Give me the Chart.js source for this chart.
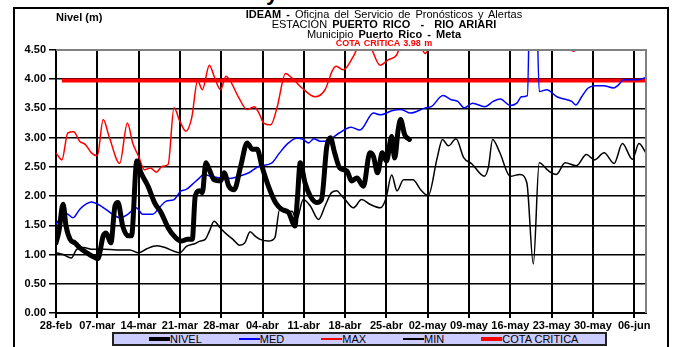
<!DOCTYPE html>
<html>
<head>
<meta charset="utf-8">
<script src="https://cdn.jsdelivr.net/npm/chart.js@4.4.0/dist/chart.umd.min.js"></script>
<style>
  body { margin: 0; background: #fff; font-family: "Liberation Sans", Arial, sans-serif; }
  #hoja { position: absolute; left: 0; top: 0; width: 679px; height: 347px; overflow: hidden; }
  #grafico { position: absolute; left: 0; top: 0; }
  .marco { position: absolute; left: 13px; top: 7px; width: 656px; height: 400px; border: 2px solid #000; box-sizing: border-box; }
  .titulo { position: absolute; left: 184px; width: 400px; text-align: center; font-size: 11px; line-height: 11px; color: #000;
            white-space: pre; word-spacing: 2px; }
  .nivel { position: absolute; left: 56px; top: 12px; font-size: 11px; font-weight: bold; line-height: 11px; }
  .cota { color: #ff0000; font-weight: bold; font-size: 9px; line-height: 9px; word-spacing: 1px; }
  .cortado { position: absolute; left: 266px; top: -20px; font-size: 22px; font-weight: bold; line-height: 25px; }
  #leyenda { position: absolute; left: 112px; top: 332px; width: 495px; height: 14px; box-sizing: border-box;
             border: 2px solid #222; background: #ccccff; display: flex; align-items: center; padding-left: 35px; gap: 37px; }
  .item { display: flex; align-items: center; font-size: 11px; line-height: 11px; }
  .muestra { width: 21px; }
</style>
</head>
<body>
<div id="hoja">
  <div class="marco"></div>
  <div class="cortado">y</div>
  <canvas id="grafico" width="679" height="347"></canvas>
  <div class="nivel">Nivel (m)</div>
  <div class="titulo" style="top:9px"><b>IDEAM -</b> Oficina del Servicio de Pronósticos y Alertas</div>
  <div class="titulo" style="top:19px">ESTACIÓN <b>PUERTO RICO  -  RIO ARIARI</b></div>
  <div class="titulo" style="top:29px">Municipio <b>Puerto Rico - Meta</b></div>
  <div class="titulo cota" style="top:39px">COTA CRÍTICA 3.98 m</div>
  <div id="leyenda"></div>
</div>
<script>
// Etiquetas del eje de fechas (una cada 7 dias, desde el 28-feb)
var fechas = ['28-feb', '07-mar', '14-mar', '21-mar', '28-mar', '04-abr', '11-abr', '18-abr',
              '25-abr', '02-may', '09-may', '16-may', '23-may', '30-may', '06-jun'];
var diasTotales = 100;

// NIVEL observado (dias desde 28-feb, metros)
var nivelDias = [0, 0.5, 1.2, 1.7, 2.4, 3.2, 4, 5.2, 6, 7.1, 8, 8.5, 9.3, 10, 10.5, 11.3, 12.2, 12.8, 13.7, 14.4,
  15.6, 16.7, 17.8, 19, 20, 21.2, 22.3, 23.1, 23.6, 24.3, 24.8, 25.4, 26, 26.8, 27.9, 28.5, 29.3, 30.2, 31.3, 32.4,
  33.3, 34.1, 34.9, 36, 37.2, 38.3, 39.4, 40.5, 40.9, 41.4, 42.2, 43.1, 44.2, 45, 45.9, 46.5, 47.2, 48.1, 49.3, 50.1,
  51, 52.1, 53.2, 53.8, 54.5, 55.3, 56, 56.9, 57.4, 58, 58.4, 59.1, 59.9];
var nivelValores = [1.20, 1.40, 1.86, 1.49, 1.26, 1.20, 1.12, 1.03, 0.98, 0.93, 1.32, 1.37, 1.20, 1.83, 1.89, 1.49, 1.32, 1.32, 2.60, 2.40,
  2.17, 1.89, 1.72, 1.46, 1.32, 1.23, 1.26, 1.26, 2.00, 2.09, 2.06, 2.57, 2.45, 2.28, 2.26, 2.40, 2.17, 2.11, 2.51, 2.91,
  2.80, 2.80, 2.51, 2.17, 1.89, 1.77, 1.72, 1.49, 1.94, 2.57, 2.23, 2.00, 1.89, 1.94, 2.85, 3.00, 2.75, 2.48, 2.43, 2.26,
  2.31, 2.17, 2.74, 2.68, 2.40, 2.74, 2.60, 3.02, 2.65, 3.14, 3.31, 3.05, 2.97];

// MED historico
var medDias = [0, 1, 1.8, 2.9, 4, 5.2, 6, 7.1, 8.5, 10, 11, 12.2, 13.6, 14.7, 16.4, 17.5, 18.6, 20, 21.2, 22,
  23.1, 24.2, 25, 26.3, 27.9, 29.3, 31, 32.7, 34.4, 36.6, 37.9, 39.4, 40.8, 41.9, 42.8, 43.7, 44.8, 45.6, 46.7, 48,
  50, 51.5, 53.8, 55, 56.9, 58.5, 60.1, 62.6, 63.6, 65.6, 67, 68.1, 69.2, 70.6, 72.7, 74.1, 75.3, 77, 78.1, 78.9,
  79.9, 80.5, 81.2, 81.9, 83.2, 84.9, 86.6, 87.4, 88.1, 89.1, 90.2, 91.4, 92.8, 94.5, 95.3, 96.2, 97.9, 99, 100];
var medValores = [1.52, 1.66, 1.70, 1.63, 1.77, 1.87, 1.90, 1.86, 1.77, 1.66, 1.63, 1.69, 1.80, 1.69, 1.69, 1.80, 1.91, 1.94, 2.09, 2.11,
  2.20, 2.30, 2.37, 2.34, 2.31, 2.30, 2.34, 2.40, 2.51, 2.57, 2.74, 2.91, 2.99, 2.97, 2.91, 2.98, 2.94, 2.94, 2.99, 3.08,
  3.18, 3.13, 3.42, 3.39, 3.46, 3.48, 3.42, 3.51, 3.53, 3.72, 3.65, 3.62, 3.51, 3.59, 3.53, 3.62, 3.66, 3.55, 3.59, 3.70,
  3.72, 6.50, 6.50, 3.79, 3.82, 3.70, 3.65, 3.62, 3.56, 3.70, 3.85, 3.89, 3.89, 3.85, 3.90, 3.99, 3.99, 4.00, 4.03];

// MAX historico
var maxDias = [0, 1, 2, 3, 4, 5, 6, 7, 8, 9, 10.8, 12.1, 13, 14, 15, 16, 17, 18, 19, 20,
  21, 22, 23, 24, 24.8, 26, 26.8, 27.9, 28.8, 29.6, 31, 32.4, 33.6, 34.4, 35.2, 36.4, 37.5, 38.9, 40, 41.7,
  43.9, 45.6, 46.9, 47.5, 48.7, 50.4, 51.8, 53.3, 54.9, 56.3, 57.7, 58.6, 59.8, 61, 62.6, 64, 66, 70, 74, 78,
  82, 86, 87.7, 89.5, 92, 96, 100];
var maxValores = [2.74, 2.62, 3.08, 3.10, 2.94, 2.88, 2.74, 2.69, 3.31, 3.02, 2.56, 3.25, 2.91, 2.68, 2.45, 2.48, 2.41, 2.51, 2.54, 3.51,
  3.28, 3.11, 3.34, 3.98, 3.82, 4.24, 4.05, 3.82, 4.05, 3.96, 3.68, 3.48, 3.53, 3.42, 3.25, 3.22, 3.53, 4.10, 4.02, 3.85,
  3.70, 3.82, 4.16, 4.22, 4.16, 4.39, 4.65, 4.55, 4.24, 4.33, 4.41, 4.60, 4.50, 4.70, 4.44, 4.80, 5.00, 4.90, 5.10, 4.80,
  5.00, 4.70, 4.48, 4.70, 4.90, 5.00, 4.90];

// MIN historico
var minDias = [0, 1.2, 2.6, 3.5, 4.6, 6.3, 8, 10.3, 12.5, 14, 15.4, 17.1, 18.5, 19.9, 21, 22.1, 23.6, 24.4, 25.3, 26,
  26.8, 27.8, 28.9, 30, 31.1, 32, 32.9, 33.7, 34.6, 36, 37.1, 37.9, 38.8, 40, 40.8, 41.9, 43.1, 44.5, 45.6, 46.7,
  47.6, 48.3, 49, 50.4, 51.8, 53.2, 55, 55.9, 56.9, 57.8, 58.9, 60.5, 61.8, 63.1, 64.6, 65.5, 66.5, 67.8, 69.1, 70.5,
  72.6, 73.3, 74, 75.2, 77, 78.6, 79.8, 80.9, 81.9, 83.5, 84.8, 86.3, 88.2, 89.9, 91.3, 92.9, 94.6, 96, 97.7, 98.8, 100];
var minValores = [1.03, 1.00, 0.94, 1.09, 1.12, 1.09, 1.09, 1.08, 1.08, 1.03, 1.10, 1.15, 1.12, 1.06, 1.03, 1.14, 1.19, 1.23, 1.26, 1.40,
  1.57, 1.46, 1.35, 1.26, 1.16, 1.20, 1.39, 1.32, 1.26, 1.23, 1.29, 1.77, 1.72, 1.74, 1.60, 1.94, 1.83, 1.60, 1.83, 2.06,
  2.09, 2.02, 1.94, 1.80, 1.94, 1.86, 1.80, 1.95, 2.36, 2.09, 2.28, 2.28, 2.11, 2.01, 2.65, 2.97, 2.86, 2.98, 2.66, 2.55,
  2.34, 2.50, 2.97, 2.75, 2.34, 2.37, 2.23, 0.84, 2.57, 2.43, 2.37, 2.57, 2.52, 2.71, 2.62, 2.74, 2.56, 2.90, 2.63, 2.90, 2.74];

// Cota critica
var cotaCritica = 3.98;
var cotaDias = [1, 100];

// Convierte dos listas en puntos {x, y}
function puntos(dias, valores) {
    return dias.map(function(d, i) { return { x: d, y: valores[i] }; });
}

// Borde gris arriba y a la derecha del area de trazado
var bordeGris = {
    id: 'bordeGris',
    afterDatasetsDraw: function(chart) {
        var ctx = chart.ctx, a = chart.chartArea;
        ctx.save();
        ctx.strokeStyle = '#808080';
        ctx.lineWidth = 2;
        ctx.beginPath();
        ctx.moveTo(a.left, a.top);
        ctx.lineTo(a.right, a.top);
        ctx.lineTo(a.right, a.bottom);
        ctx.stroke();
        ctx.restore();
    }
};

Chart.defaults.font.family = '"Liberation Sans", Arial, sans-serif';
Chart.defaults.color = '#000';

var ctx = document.getElementById('grafico').getContext('2d');
var grafico = new Chart(ctx, {
    type: 'line',
    data: {
        datasets: [
            { label: 'NIVEL', data: puntos(nivelDias, nivelValores), borderColor: '#000000', borderWidth: 5,
              borderJoinStyle: 'round', borderCapStyle: 'round' },
            { label: 'MED', data: puntos(medDias, medValores), borderColor: '#0000ff', borderWidth: 1.5 },
            { label: 'MAX', data: puntos(maxDias, maxValores), borderColor: '#ff0000', borderWidth: 1.5 },
            { label: 'MIN', data: puntos(minDias, minValores), borderColor: '#000000', borderWidth: 1.5 },
            { label: 'COTA CRITICA', data: cotaDias.map(function(d) { return { x: d, y: cotaCritica }; }),
              borderColor: '#ff0000', borderWidth: 4 }
        ]
    },
    options: {
        responsive: false,
        animation: false,
        devicePixelRatio: 1,
        layout: { padding: { left: 0, right: 33, top: 50, bottom: 0 } },
        elements: {
            point: { radius: 0 },
            line: { cubicInterpolationMode: 'monotone', fill: false }
        },
        plugins: { legend: { display: false }, tooltip: { enabled: false } },
        scales: {
            x: {
                type: 'linear',
                min: 0,
                max: diasTotales,
                afterFit: function(scale) { scale.height = 34; },
                grid: { color: '#000', lineWidth: 2, tickLength: 5 },
                border: { color: '#000', width: 2 },
                ticks: {
                    stepSize: 7,
                    includeBounds: false,
                    autoSkip: false,
                    maxRotation: 0,
                    padding: 1,
                    font: { size: 11, weight: 'bold' },
                    callback: function(v) { return fechas[v / 7] || ''; }
                }
            },
            y: {
                min: 0,
                max: 4.5,
                afterFit: function(scale) { scale.width = 56; },
                grid: { color: '#000', lineWidth: 1.5, tickLength: 7 },
                border: { color: '#000', width: 2 },
                ticks: {
                    stepSize: 0.5,
                    padding: 3,
                    font: { size: 11, weight: 'bold' },
                    callback: function(v) { return v.toFixed(2); }
                }
            }
        }
    },
    plugins: [bordeGris]
});

// Leyenda en HTML a partir de las series
var leyenda = document.getElementById('leyenda');
grafico.data.datasets.forEach(function(ds) {
    var item = document.createElement('div');
    item.className = 'item';
    var muestra = document.createElement('div');
    muestra.className = 'muestra';
    muestra.style.height = Math.min(ds.borderWidth, 4) + 'px';
    muestra.style.background = ds.borderColor;
    var texto = document.createElement('span');
    texto.textContent = ds.label;
    item.appendChild(muestra);
    item.appendChild(texto);
    leyenda.appendChild(item);
});
</script>
</body>
</html>
